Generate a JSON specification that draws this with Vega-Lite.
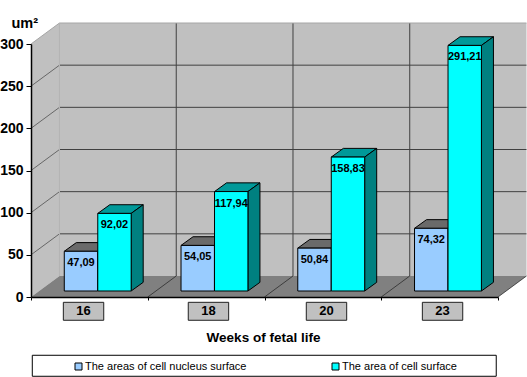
{
"$schema":"https://vega.github.io/schema/vega-lite/v6.json",
"width":467,"height":253,"autosize":"none",
"padding":{"left":31,"top":44,"right":29,"bottom":80},
"background":"white",
"config":{"view":{"stroke":null},"font":"Liberation Sans"},
"resolve":{"axis":{"x":"independent","y":"independent"}},
"datasets":{
"bars":[
{"week":"16","series":"The areas of cell nucleus surface","value":47.09},
{"week":"16","series":"The area of cell surface","value":92.02},
{"week":"18","series":"The areas of cell nucleus surface","value":54.05},
{"week":"18","series":"The area of cell surface","value":117.94},
{"week":"20","series":"The areas of cell nucleus surface","value":50.84},
{"week":"20","series":"The area of cell surface","value":158.83},
{"week":"23","series":"The areas of cell nucleus surface","value":74.32},
{"week":"23","series":"The area of cell surface","value":291.21}],
"depth":[{"depth":0},{"depth":1}],
"ticks":[{"tick":0},{"tick":50},{"tick":100},{"tick":150},{"tick":200},{"tick":250},{"tick":300}],
"cats":[{"cat":0},{"cat":1},{"cat":2},{"cat":3},{"cat":4}],
"one":[{"id":1}]
},
"data":{"name":"bars"},
"transform":[
{"calculate":"indexof(['16','18','20','23'],datum.week)","as":"i"},
{"calculate":"datum.i+(indexof(datum.series,'nucleus')>=0?0.285:0.572)","as":"x0"},
{"calculate":"datum.x0+0.286","as":"x1"},
{"calculate":"datum.value+7.1","as":"top"},
{"calculate":"replace(format(datum.value,'.2f'),'.',',')","as":"label"}
],
"layer":[
{"data":{"name":"one"},"mark":{"type":"rect","fill":"#c0c0c0"},"transform":[],
 "encoding":{
  "x":{"datum":0.244,"type":"quantitative","scale":{"domain":[0,4],"nice":false,"zero":false},"axis":null},
  "x2":{"datum":4.244},
  "y":{"datum":24.9,"type":"quantitative","scale":{"domain":[0,300],"nice":false,"zero":false},"axis":null},
  "y2":{"datum":324.9}}},
{"data":{"name":"depth"},"transform":[
  {"calculate":"datum.depth*0.244","as":"dx"},{"calculate":"datum.depth*24.9","as":"dy"},{"calculate":"datum.dy+300","as":"dt"}],
 "mark":{"type":"area","fill":"#c0c0c0","orient":"vertical"},
 "encoding":{"x":{"field":"dx","type":"quantitative","axis":null},"y":{"field":"dy","type":"quantitative","axis":null},"y2":{"field":"dt"}}},
{"data":{"name":"depth"},"transform":[
  {"calculate":"datum.depth*0.244","as":"dx"},{"calculate":"datum.dx+4","as":"dr"},{"calculate":"datum.depth*24.9","as":"dy"}],
 "mark":{"type":"area","fill":"#808080","orient":"horizontal"},
 "encoding":{"y":{"field":"dy","type":"quantitative","axis":null},"x":{"field":"dx","type":"quantitative","axis":null},"x2":{"field":"dr"}}},
{"data":{"name":"ticks"},"transform":[{"filter":"datum.tick>0 && datum.tick<300"},{"calculate":"datum.tick+24.9","as":"back"}],
 "mark":{"type":"rule","color":"#404040","strokeWidth":1},
 "encoding":{"x":{"datum":0.244,"type":"quantitative","axis":null},"x2":{"datum":4.244},"y":{"field":"back","type":"quantitative","axis":null}}},
{"data":{"name":"ticks"},"transform":[{"filter":"datum.tick>0 && datum.tick<300"},{"calculate":"datum.tick+24.9","as":"back"}],
 "mark":{"type":"rule","color":"#404040","strokeWidth":0.7},
 "encoding":{"x":{"datum":0,"type":"quantitative","axis":null},"x2":{"datum":0.244},"y":{"field":"tick","type":"quantitative","axis":null},"y2":{"field":"back"}}},
{"data":{"name":"cats"},"transform":[{"filter":"datum.cat>0 && datum.cat<4"},{"calculate":"datum.cat+0.244","as":"bx"}],
 "mark":{"type":"rule","color":"#404040","strokeWidth":1},
 "encoding":{"x":{"field":"bx","type":"quantitative","axis":null},"y":{"datum":24.9,"type":"quantitative","axis":null},"y2":{"datum":324.9}}},
{"data":{"name":"cats"},"transform":[{"filter":"datum.cat>0"},{"calculate":"datum.cat+0.244","as":"bx"}],
 "mark":{"type":"rule","color":"#202020","strokeWidth":0.7},
 "encoding":{"x":{"field":"cat","type":"quantitative","axis":null},"x2":{"field":"bx"},"y":{"datum":0,"type":"quantitative","axis":null},"y2":{"datum":24.9}}},
{"data":{"name":"one"},"mark":{"type":"rule","color":"#a6a6a6","strokeWidth":1},
 "encoding":{"x":{"datum":0.244,"type":"quantitative","axis":null},"x2":{"datum":4.244},"y":{"datum":324.9,"type":"quantitative","axis":null}}},
{"data":{"name":"one"},"mark":{"type":"rule","color":"#a6a6a6","strokeWidth":1},
 "encoding":{"x":{"datum":0,"type":"quantitative","axis":null},"x2":{"datum":0.244},"y":{"datum":300,"type":"quantitative","axis":null},"y2":{"datum":324.9}}},
{"data":{"name":"one"},"mark":{"type":"rule","color":"#b4b4b4","strokeWidth":1},
 "encoding":{"x":{"datum":0.244,"type":"quantitative","axis":null},"y":{"datum":24.9,"type":"quantitative","axis":null},"y2":{"datum":324.9}}},
{"data":{"name":"cats"},"mark":{"type":"rule","opacity":0},
 "encoding":{"x":{"field":"cat","type":"quantitative","scale":{"domain":[0,4],"nice":false,"zero":false},
   "axis":{"values":[0,1,2,3,4],"labels":false,"grid":false,"domainColor":"black","domainWidth":1.5,"tickColor":"black","tickSize":3,"zindex":1,
    "title":"Weeks of fetal life","titleFont":"Liberation Sans","titleFontSize":13.5,"titleFontWeight":"bold","titleColor":"black","titleX":232,"titleY":40,"titleBaseline":"middle","titleAlign":"center"}}}},
{"data":{"name":"ticks"},"mark":{"type":"rule","opacity":0},
 "encoding":{"y":{"field":"tick","type":"quantitative","scale":{"domain":[0,300],"nice":false,"zero":false},
   "axis":{"values":[0,50,100,150,200,250,300],"grid":false,"domainColor":"black","domainWidth":1.5,"tickColor":"black","tickSize":5,"labelPadding":3,"labelFont":"Liberation Sans","labelFontSize":14,"labelFontWeight":"bold","labelColor":"black","zindex":1,
    "title":"um²","titleFont":"Liberation Sans","titleFontSize":14.5,"titleFontWeight":"bold","titleColor":"black","titleAngle":0,"titleAlign":"left","titleBaseline":"alphabetic","titleX":-20,"titleY":-17}}}},
{"transform":[{"filter":"indexof(datum.series,'nucleus')>=0"},{"calculate":"[0,1]","as":"t"},{"flatten":["t"]},
  {"calculate":"datum.x0+datum.t*0.103","as":"a"},{"calculate":"datum.x1+datum.t*0.103","as":"b"},{"calculate":"datum.top+datum.t*10.3","as":"c"}],
 "mark":{"type":"area","fill":"#6a6a6a","stroke":"black","strokeWidth":1,"orient":"horizontal"},
 "encoding":{"detail":{"field":"week"},"y":{"field":"c","type":"quantitative","axis":null},"x":{"field":"a","type":"quantitative","axis":null},"x2":{"field":"b"}}},
{"transform":[{"filter":"indexof(datum.series,'nucleus')<0"},{"calculate":"[0,1]","as":"t"},{"flatten":["t"]},
  {"calculate":"datum.x0+datum.t*0.103","as":"a"},{"calculate":"datum.x1+datum.t*0.103","as":"b"},{"calculate":"datum.top+datum.t*10.3","as":"c"}],
 "mark":{"type":"area","fill":"#009999","stroke":"black","strokeWidth":1,"orient":"horizontal"},
 "encoding":{"detail":{"field":"week"},"y":{"field":"c","type":"quantitative","axis":null},"x":{"field":"a","type":"quantitative","axis":null},"x2":{"field":"b"}}},
{"transform":[{"filter":"indexof(datum.series,'nucleus')<0"},{"calculate":"[0,1]","as":"t"},{"flatten":["t"]},
  {"calculate":"datum.x1+datum.t*0.103","as":"a"},{"calculate":"datum.top+datum.t*10.3","as":"c"},{"calculate":"7.1+datum.t*10.3","as":"d"}],
 "mark":{"type":"area","fill":"#008080","stroke":"black","strokeWidth":1,"orient":"vertical"},
 "encoding":{"detail":{"field":"week"},"x":{"field":"a","type":"quantitative","axis":null},"y":{"field":"c","type":"quantitative","axis":null},"y2":{"field":"d"}}},
{"data":{"name":"one"},"mark":{"type":"rect","fill":"white","stroke":"black","strokeWidth":1},
 "encoding":{"x":{"datum":0.011,"type":"quantitative","axis":null},"x2":{"datum":3.985},"y":{"datum":-69.1,"type":"quantitative","axis":null},"y2":{"datum":-94}}},
{"transform":[{"calculate":"7.1","as":"base"}],
 "mark":{"type":"rect","stroke":"black","strokeWidth":1},
 "encoding":{"x":{"field":"x0","type":"quantitative","axis":null},"x2":{"field":"x1"},"y":{"field":"top","type":"quantitative","axis":null},"y2":{"field":"base"},
  "color":{"field":"series","type":"nominal","scale":{"domain":["The areas of cell nucleus surface","The area of cell surface"],"range":["#99ccff","#00ffff"]},
   "legend":{"title":null,"orient":"none","legendX":42,"legendY":317,"direction":"horizontal","symbolType":"square","symbolSize":49,"symbolStrokeColor":"black","symbolStrokeWidth":1,"symbolOpacity":1,"labelFont":"Liberation Sans","labelFontSize":11,"labelColor":"black","labelLimit":300,"columnPadding":83,"labelOffset":1}}}},
{"mark":{"type":"text","font":"Liberation Sans","fontSize":11,"fontWeight":"bold","color":"black","dy":12,"baseline":"middle"},
 "transform":[{"calculate":"(datum.x0+datum.x1)/2","as":"mid"}],
 "encoding":{"x":{"field":"mid","type":"quantitative","axis":null},"y":{"field":"top","type":"quantitative","axis":null},"text":{"field":"label"}}},
{"transform":[{"filter":"indexof(datum.series,'nucleus')<0"},{"calculate":"{'16':0.45,'18':1.52,'20':2.531,'23':3.525}[datum.week]","as":"c"},{"calculate":"datum.c-0.173","as":"l"},{"calculate":"datum.c+0.173","as":"r"}],
 "mark":{"type":"rect","fill":"#c0c0c0","stroke":"#202020","strokeWidth":1},
 "encoding":{"x":{"field":"l","type":"quantitative","axis":null},"x2":{"field":"r"},"y":{"datum":-6.3,"type":"quantitative","axis":null},"y2":{"datum":-27.6}}},
{"transform":[{"filter":"indexof(datum.series,'nucleus')<0"},{"calculate":"{'16':0.45,'18':1.52,'20':2.531,'23':3.525}[datum.week]","as":"c"}],
 "mark":{"type":"text","font":"Liberation Sans","fontSize":13,"fontWeight":"bold","color":"black","baseline":"middle"},
 "encoding":{"x":{"field":"c","type":"quantitative","axis":null},"y":{"datum":-17,"type":"quantitative","axis":null},"text":{"field":"week"}}}
]
}
